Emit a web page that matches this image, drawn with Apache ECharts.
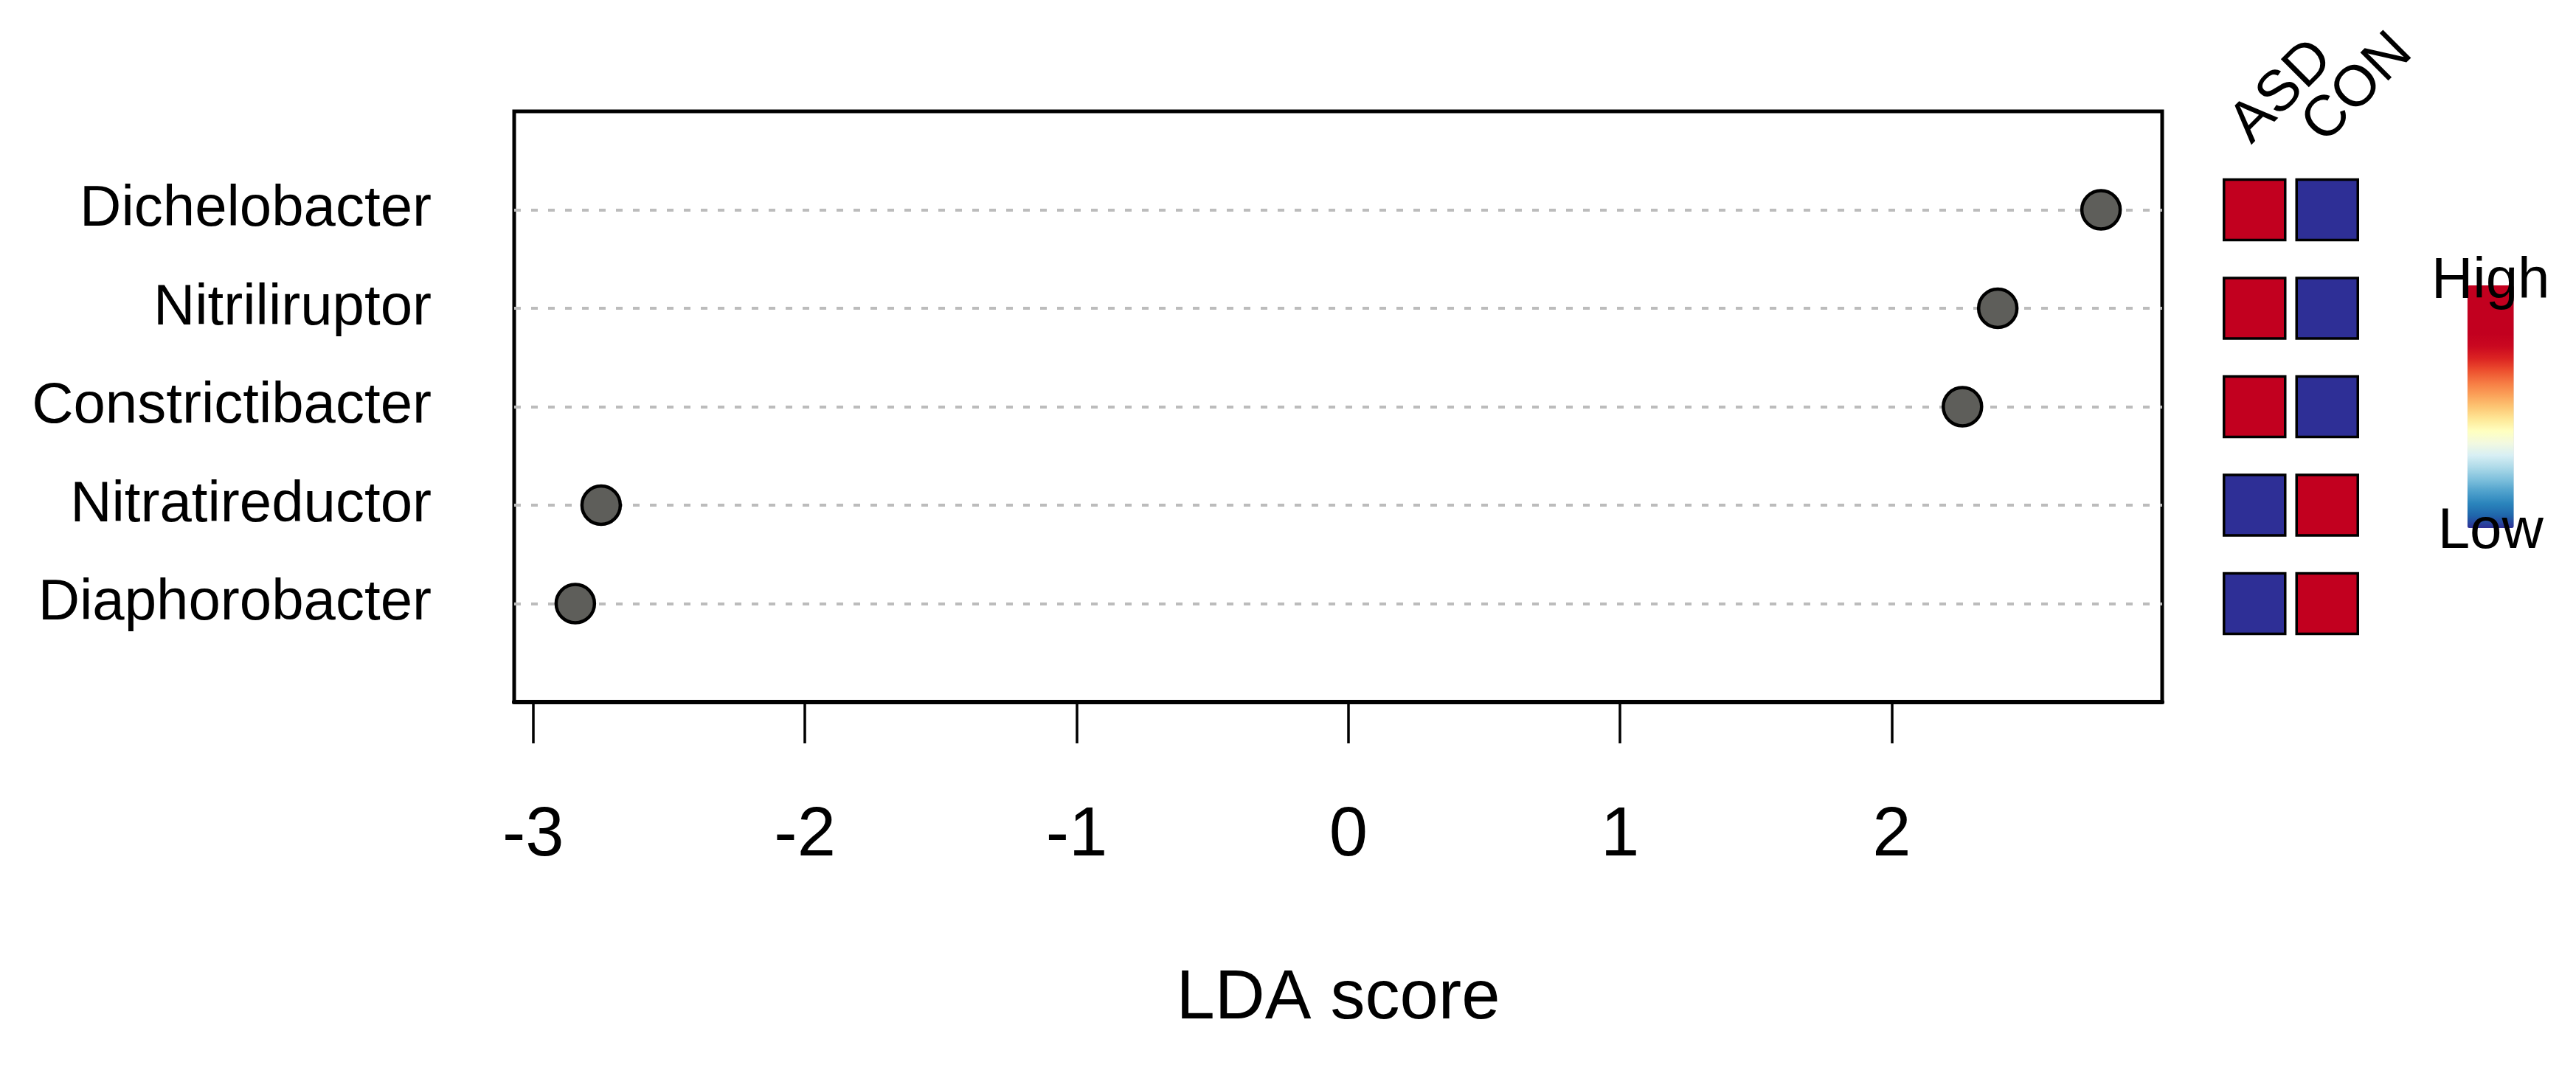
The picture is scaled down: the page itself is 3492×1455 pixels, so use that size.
<!DOCTYPE html>
<html><head><meta charset="utf-8">
<script src="https://cdn.jsdelivr.net/npm/echarts@6/dist/echarts.min.js"></script>
<style>html,body{margin:0;padding:0;background:#fff}#c{width:3492px;height:1455px}</style>
</head><body><div id="c"></div>
<script>
// ---- data ----
const categories = ['Dichelobacter', 'Nitriliruptor', 'Constrictibacter', 'Nitratireductor', 'Diaphorobacter'];
const ldaScores = [2.77, 2.39, 2.26, -2.75, -2.845];
const groups = ['ASD', 'CON'];
const asdLevel = [1, 1, 1, 0, 0];
const conLevel = [0, 0, 0, 1, 1];
const xTickValues = [-3, -2, -1, 0, 1, 2];
const xLimits = [-3.07, 2.995];
const legendText = ['High', 'Low'];
const xAxisTitle = 'LDA score';

// ---- styles ----
const FONT = 'Liberation Sans, Arial, sans-serif';
const palette = ['#2E2F96', '#1F65AA', '#2A84BC', '#4FA1CC', '#7EC0DC', '#AEDAE9', '#D8EFF4', '#F2F9E0',
  '#FFFFBF', '#FEE796', '#FDC573', '#FBA058', '#F67A43', '#EC4E2E', '#DB2222', '#CA0820',
  '#C2001F', '#C2001F', '#C2001F', '#C2001F', '#C2001F'];

const n = categories.length;
const rowPos = categories.map((c, i) => n - i);
const pointData = ldaScores.map((v, i) => [v, rowPos[i]]);
const cellData = [];
categories.forEach((c, i) => {
  cellData.push([0, rowPos[i], asdLevel[i]]);
  cellData.push([1, rowPos[i], conLevel[i]]);
});

const chart = echarts.init(document.getElementById('c'), null, {renderer: 'canvas'});
chart.setOption({
  animation: false,
  backgroundColor: '#ffffff',
  textStyle: {fontFamily: FONT},
  grid: [
    {left: 697, right: 561, top: 151, bottom: 503, show: true, borderColor: '#000', borderWidth: 5, backgroundColor: 'transparent'},
    {left: 3007, right: 288, top: 151, bottom: 503, show: false}
  ],
  xAxis: [
    {
      type: 'value', gridIndex: 0, min: xLimits[0], max: xLimits[1],
      axisLine: {show: true, onZero: false, lineStyle: {color: '#000', width: 6}},
      axisTick: {show: true, length: 56, customValues: xTickValues, lineStyle: {color: '#000', width: 3.5}},
      axisLabel: {show: true, customValues: xTickValues, margin: 135, fontSize: 94, lineHeight: 94, color: '#000', fontFamily: FONT},
      splitLine: {show: false},
      name: xAxisTitle, nameLocation: 'middle', nameGap: 356,
      nameTextStyle: {fontSize: 94, lineHeight: 94, color: '#000', fontFamily: FONT}
    },
    {
      type: 'category', gridIndex: 1, data: groups, position: 'top', boundaryGap: true,
      axisLine: {show: false}, axisTick: {show: false}, splitLine: {show: false},
      axisLabel: {show: true, interval: 0, hideOverlap: false, rotate: 45, margin: -50, align: 'left', verticalAlign: 'bottom',
        fontSize: 78, lineHeight: 56, color: '#000', fontFamily: FONT}
    }
  ],
  yAxis: [
    {
      type: 'value', gridIndex: 0, min: 0, max: n + 1, interval: 1,
      axisLine: {show: false}, axisTick: {show: false}, splitLine: {show: false},
      axisLabel: {
        show: true, margin: 112, fontSize: 78, color: '#000', fontFamily: FONT,
        formatter: v => (v >= 1 && v <= n) ? categories[n - v] : ''
      }
    },
    {
      type: 'value', gridIndex: 1, min: 0, max: n + 1, show: false
    }
  ],
  visualMap: {
    type: 'continuous', seriesIndex: 2, dimension: 2, min: 0, max: 1,
    orient: 'vertical', calculable: false, left: 3296, top: 343, padding: 0,
    itemWidth: 63, itemHeight: 329, text: legendText, textGap: -34,
    textStyle: {fontSize: 78, lineHeight: 78, color: '#000', fontFamily: FONT},
    inRange: {color: palette}
  },
  series: [
    {
      type: 'scatter', xAxisIndex: 0, yAxisIndex: 0, data: [], z: 1, silent: true,
      markLine: {
        silent: true, z: 1, symbol: ['none', 'none'], label: {show: false},
        lineStyle: {color: '#bcbcbc', width: 4, type: [9, 14]},
        data: rowPos.map(p => ({yAxis: p}))
      }
    },
    {
      type: 'scatter', xAxisIndex: 0, yAxisIndex: 0, data: pointData, z: 6,
      symbol: 'circle', symbolSize: 52,
      itemStyle: {color: '#5E5E5A', borderColor: '#000', borderWidth: 4.5, opacity: 1}
    },
    {
      type: 'scatter', xAxisIndex: 1, yAxisIndex: 1, data: cellData, z: 3,
      symbol: 'rect', symbolSize: [83, 82],
      itemStyle: {borderColor: '#000', borderWidth: 3.5, opacity: 1}
    }
  ]
});
</script></body></html>
